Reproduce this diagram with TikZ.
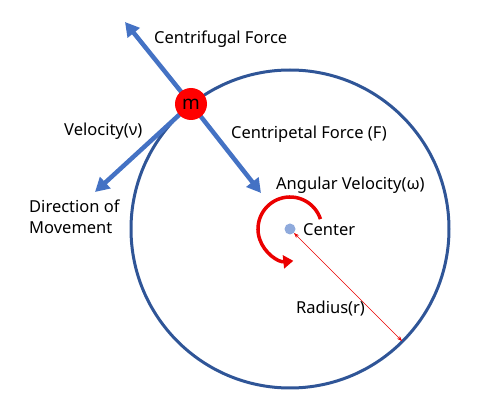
\documentclass[tikz,border=0pt]{standalone}
\usepackage{fontspec}
\setmainfont{Noto Sans}
\usetikzlibrary{arrows.meta}
\definecolor{forceblue}{RGB}{68,114,196}
\definecolor{orbitblue}{RGB}{47,85,151}
\definecolor{centerblue}{RGB}{143,170,220}
\definecolor{spinred}{RGB}{235,0,0}

\begin{document}
\begin{tikzpicture}[x=1pt,y=-1pt,>=Stealth,
	font=\fontsize{16.5}{21}\selectfont,
	force/.style={draw=forceblue,line width=4.5pt,-{Triangle[length=14pt,width=15pt]}},
	lbl/.style={inner sep=0pt,anchor=west}]
	\useasboundingbox (0,0) rectangle (491,401);
	\node[circle,fill=centerblue,minimum size=11pt,inner sep=0pt] (c) at (290,229) {};
	\draw[orbitblue,line width=3pt] (c) circle[radius=159];
	\coordinate (mc) at (191,104);
	\coordinate (cf) at (125,22);
	\coordinate (cp) at (261,193);
	\coordinate (dv) at (95,192);
	\coordinate (rim) at (402,341);
	\draw[force] (mc) -- (cf);
	\draw[force] (mc) -- (cp);
	\draw[force] (mc) -- (dv);
	\node[circle,fill=red,minimum size=32pt,inner sep=0pt,font=\fontsize{19}{20}\selectfont] (m) at (mc) {m};
	\draw[spinred,line width=3.5pt,-{Triangle[length=10pt,width=13pt]}] (c) ++(-18:32)
		arc[start angle=-18, end angle=-276, radius=32];
	\draw[spinred,line width=0.5pt,<->] (c) -- (rim);
	\node[lbl] (nf) at (154,39) {Centrifugal Force};
	\node[lbl] (nv) at (64,131) {Velocity(ν)};
	\node[lbl] (np) at (231,134) {Centripetal Force (F)};
	\node[lbl,align=left] (nd) at (29,217) {Direction of\\Movement};
	\node[lbl] (nw) at (276,185) {Angular Velocity(ω)};
	\node[lbl] (nc) at (303,230) {Center};
	\node[lbl] (nr) at (296,309) {Radius(r)};
\end{tikzpicture}
\end{document}
